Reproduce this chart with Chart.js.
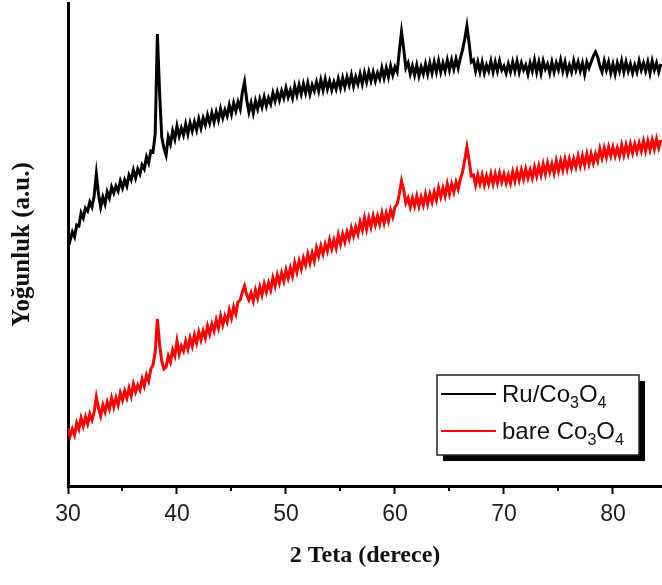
<!DOCTYPE html>
<html>
<head>
<meta charset="utf-8">
<script src="https://cdn.jsdelivr.net/npm/chart.js@4.4.0/dist/chart.umd.min.js"></script>
<style>
  body { margin: 0; background: #fff; }
  #myChart { display: block; }
</style>
</head>
<body>
<canvas id="myChart" width="662" height="585"></canvas>
<script>
// 2 theta grid of the scan (degrees)
const thetaStart = 30;
const thetaStep = 0.2;
const xTicks = [30, 40, 50, 60, 70, 80];

// intensities (a.u.), one row per degree
const ruCo3O4 = [
  254,246,254,249,261,  260,273,268,278,275,  284,279,290,312,292,  279,289,282,294,288, // 30-33
  299,293,300,295,305,  298,306,300,311,306,  316,308,317,312,321,  317,329,323,335,334, // 34-37
  352,452,395,349,338,  331,349,342,355,347,  360,350,358,351,362,  352,363,355,364,356, // 38-41
  367,358,368,361,371,  363,373,364,374,366,  377,368,376,370,381,  372,383,375,384,377, // 42-45
  394,404,386,374,383,  373,385,377,387,379,  389,380,388,382,393,  385,394,386,395,388, // 46-49
  398,389,396,388,400,  391,401,392,402,393,  403,392,401,395,404,  395,406,396,407,397, // 50-53
  405,396,404,397,407,  398,408,399,409,401,  411,400,409,402,412,  402,413,404,414,405, // 54-57
  414,405,413,407,418,  408,418,409,420,411,  419,414,435,454,437,  418,423,412,420,411, // 58-61
  421,410,419,412,422,  412,423,413,424,414,  425,414,423,415,426,  416,426,417,427,418, // 62-65
  428,436,447,460,443,  424,426,415,424,414,  424,413,421,415,425,  414,424,415,425,416, // 66-69
  420,413,422,414,424,  415,425,414,423,416,  421,412,423,415,426,  414,424,413,425,417, // 70-73
  422,413,424,414,423,  416,426,415,424,413,  421,414,425,416,424,  415,423,412,424,418, // 74-77
  424,430,434,429,420,  414,425,416,424,413,  422,412,423,415,425,  414,424,415,422,413, // 78-81
  421,414,425,416,423,  415,424,413,425,416,  423,414,422                                // 82-84.4
];
const bareCo3O4 = [
  58,50,57,51,63,       57,68,60,69,62,       72,66,74,89,78,       70,81,74,84,77,       // 30-33
  88,79,88,81,93,       86,95,88,98,90,       102,94,101,96,107,    100,111,105,117,121,  // 34-37
  134,167,142,125,117,  119,130,124,136,130,  145,132,140,135,145,  137,148,140,151,143,  // 38-41
  154,146,155,148,160,  152,162,155,166,158,  170,161,170,164,176,  168,179,172,184,186,  // 42-45
  194,200,191,186,193,  185,196,188,199,191,  202,194,203,196,208,  200,211,203,213,205,  // 46-49
  216,208,218,210,223,  214,225,217,228,221,  232,223,233,225,238,  230,240,232,242,235,  // 50-53
  246,237,246,238,251,  242,252,244,254,247,  258,250,259,252,264,  256,268,257,268,259,  // 54-57
  270,261,270,262,273,  263,273,265,276,269,  279,282,292,305,296,  283,288,279,288,280,  // 58-61
  290,280,289,281,292,  282,292,284,294,286,  298,289,298,290,302,  292,302,294,304,297,  // 62-65
  307,314,326,339,326,  310,311,301,311,302,  311,301,310,302,312,  302,312,303,313,304,  // 66-69
  312,303,311,303,314,  305,315,306,316,307,  317,308,316,308,319,  310,320,311,322,312,  // 70-73
  323,314,322,313,325,  315,325,316,327,317,  327,318,327,319,330,  320,330,321,332,322,  // 74-77
  332,323,332,325,337,  328,338,329,339,330,  339,330,338,330,341,  331,341,332,342,333,  // 78-81
  342,334,343,335,345,  335,345,336,346,337,  347,338,346                                // 82-84.4
];

const seriesNames = ["Ru/Co3O4", "bare Co3O4"];
const seriesColors = ["#000000", "#ff0000"];

function toPoints(arr) {
  return arr.map((v, i) => ({ x: thetaStart + i * thetaStep, y: v }));
}

// small ticks between the labelled ones
const minorTicks = {
  id: "minorTicks",
  afterDraw(chart) {
    const ctx = chart.ctx, xs = chart.scales.x;
    ctx.save();
    ctx.strokeStyle = "#000";
    ctx.lineWidth = 2;
    for (let v = 35; v < xs.max; v += 10) {
      const px = Math.round(xs.getPixelForValue(v));
      ctx.beginPath();
      ctx.moveTo(px, xs.top);
      ctx.lineTo(px, xs.top + 5);
      ctx.stroke();
    }
    ctx.restore();
  }
};

// legend box with shadow and subscripted formula
const boxLegend = {
  id: "boxLegend",
  afterDraw(chart) {
    const ctx = chart.ctx;
    const bx = 437, by = 375, bw = 202, bh = 80;
    ctx.save();
    ctx.fillStyle = "#000";
    ctx.fillRect(bx + 6, by + 6, bw, bh);
    ctx.fillStyle = "#fff";
    ctx.fillRect(bx, by, bw, bh);
    ctx.strokeStyle = "#222";
    ctx.lineWidth = 1.5;
    ctx.strokeRect(bx, by, bw, bh);

    const rows = [
      { y: 394, color: seriesColors[0], parts: [["Ru/Co", 0], ["3", 1], ["O", 0], ["4", 1]] },
      { y: 431, color: seriesColors[1], parts: [["bare Co", 0], ["3", 1], ["O", 0], ["4", 1]] }
    ];
    rows.forEach(r => {
      ctx.strokeStyle = r.color;
      ctx.lineWidth = 2;
      ctx.beginPath();
      ctx.moveTo(441, r.y);
      ctx.lineTo(496, r.y);
      ctx.stroke();
      let tx = 502;
      ctx.fillStyle = "#111";
      ctx.textBaseline = "alphabetic";
      r.parts.forEach(([t, sub]) => {
        ctx.font = sub ? "16px 'Liberation Sans', Arial, sans-serif" : "24px 'Liberation Sans', Arial, sans-serif";
        ctx.fillText(t, tx, r.y + (sub ? 14 : 8));
        tx += ctx.measureText(t).width;
      });
    });
    ctx.restore();
  }
};

let myChart = document.getElementById("myChart").getContext("2d");

let xrdChart = new Chart(myChart, {
  type: "line",
  data: {
    datasets: [
      { label: seriesNames[0], data: toPoints(ruCo3O4), borderColor: seriesColors[0], borderWidth: 3, pointRadius: 0, tension: 0 },
      { label: seriesNames[1], data: toPoints(bareCo3O4), borderColor: seriesColors[1], borderWidth: 3, pointRadius: 0, tension: 0 }
    ]
  },
  options: {
    responsive: false,
    animation: false,
    layout: { padding: { top: 3, right: 0, bottom: 0, left: 0 } },
    plugins: {
      legend: { display: false },
      tooltip: { enabled: false }
    },
    scales: {
      x: {
        type: "linear",
        min: 30,
        max: 84.5,
        afterFit(scale) { scale.height = 99; },
        afterBuildTicks(scale) { scale.ticks = xTicks.map(v => ({ value: v })); },
        ticks: {
          includeBounds: false,
          padding: 7,
          color: "#1e1e1e",
          font: { family: "'Liberation Sans Narrow', 'Arial Narrow', 'Liberation Sans', sans-serif", size: 23 },
          maxRotation: 0
        },
        grid: { drawOnChartArea: false, drawTicks: true, tickLength: 8, tickColor: "#000", tickWidth: 2 },
        border: { display: true, color: "#000", width: 3 },
        title: {
          display: true,
          text: "2 Teta (derece)",
          color: "#111",
          font: { family: "'Liberation Serif', 'Times New Roman', serif", size: 24, weight: "bold" },
          padding: { top: 0, bottom: 15 }
        }
      },
      y: {
        min: 0,
        max: 483,
        afterFit(scale) { scale.width = 68; },
        ticks: { display: false },
        grid: { display: false },
        border: { display: true, color: "#000", width: 3 },
        title: {
          display: true,
          text: "Yoğunluk (a.u.)",
          color: "#111",
          font: { family: "'Liberation Serif', 'Times New Roman', serif", size: 25, weight: "bold" },
          padding: { top: 8, bottom: 0 }
        }
      }
    }
  },
  plugins: [minorTicks, boxLegend]
});
</script>
</body>
</html>
